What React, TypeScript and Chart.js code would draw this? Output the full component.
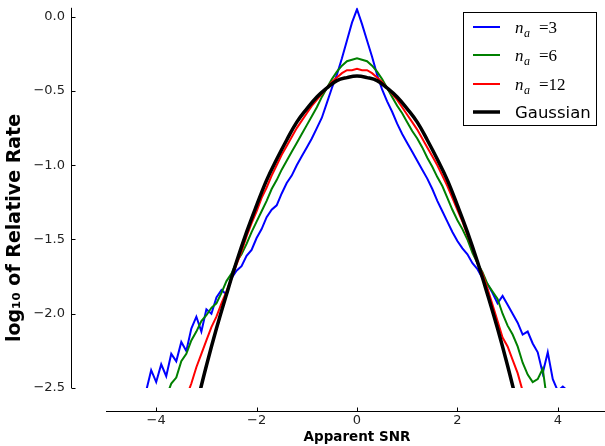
import React, { useEffect, useRef } from "react";
import { Chart, registerables } from "chart.js";

Chart.register(...registerables);

// ---- data ----
const SNR = [
  -4.2, -4.1, -4.0, -3.9, -3.8, -3.7, -3.6, -3.5, -3.4, -3.3, -3.2, -3.1, -3.0, -2.9, -2.8, -2.7, -2.6, -2.5, -2.4, -2.3, -2.2,
  -2.1, -2.0, -1.9, -1.8, -1.7, -1.6, -1.5, -1.4, -1.3, -1.2, -1.1, -1.0, -0.9, -0.8, -0.7, -0.6, -0.5, -0.4, -0.3, -0.2, -0.1,
  0.0,
  0.1, 0.2, 0.3, 0.4, 0.5, 0.6, 0.7, 0.8, 0.9, 1.0, 1.1, 1.2, 1.3, 1.4, 1.5, 1.6, 1.7, 1.8, 1.9, 2.0, 2.1,
  2.2, 2.3, 2.4, 2.5, 2.6, 2.7, 2.8, 2.9, 3.0, 3.1, 3.2, 3.3, 3.4, 3.5, 3.6, 3.7, 3.8, 3.9, 4.0, 4.1, 4.2,
];

const NA3 = [
  -2.52, -2.38, -2.46, -2.34, -2.42, -2.27, -2.32, -2.19, -2.25, -2.10, -2.02, -2.12, -1.97, -2.0, -1.89, -1.84, -1.87, -1.76, -1.71, -1.68, -1.61,
  -1.57, -1.49, -1.43, -1.35, -1.3, -1.27, -1.19, -1.12, -1.07, -1.0, -0.94, -0.88, -0.82, -0.75, -0.68, -0.58, -0.48, -0.39, -0.28, -0.16, -0.04,
  0.05,
  -0.05, -0.16, -0.27, -0.39, -0.49, -0.57, -0.64, -0.72, -0.79, -0.85, -0.91, -0.97, -1.03, -1.09, -1.16, -1.24, -1.31, -1.38, -1.45, -1.51, -1.56,
  -1.6, -1.66, -1.7, -1.76, -1.8, -1.86, -1.93, -1.88, -1.94, -2.0, -2.06, -2.14, -2.12, -2.2, -2.26, -2.4, -2.26, -2.44, -2.52, -2.49, -2.52,
];

const NA6 = [
  -2.8, -2.8, -2.8, -2.75, -2.56, -2.47, -2.43, -2.32, -2.27, -2.18, -2.12, -2.05, -2.01, -1.96, -1.93, -1.86, -1.78, -1.73, -1.65, -1.6, -1.53,
  -1.45, -1.38, -1.31, -1.24, -1.16, -1.1, -1.03, -0.97, -0.91, -0.85, -0.79, -0.73, -0.67, -0.61, -0.54, -0.48, -0.42, -0.37, -0.33, -0.3, -0.29,
  -0.28,
  -0.29, -0.3, -0.33, -0.37, -0.42, -0.48, -0.54, -0.6, -0.65, -0.71, -0.77, -0.82, -0.88, -0.95, -1.01, -1.08, -1.14, -1.22, -1.3, -1.37, -1.43,
  -1.5, -1.59, -1.66, -1.72, -1.8, -1.85, -1.9, -2.0, -2.08, -2.14, -2.22, -2.33, -2.41, -2.46, -2.44, -2.37, -2.62, -2.8, -2.8, -2.8, -2.8,
];

const NA12 = [
  -2.8, -2.8, -2.8, -2.8, -2.8, -2.8, -2.8, -2.8, -2.56, -2.47, -2.36, -2.27, -2.18, -2.09, -2.02, -1.93, -1.85, -1.76, -1.67, -1.58, -1.48,
  -1.39, -1.31, -1.22, -1.15, -1.07, -1.0, -0.93, -0.87, -0.81, -0.75, -0.7, -0.65, -0.6, -0.56, -0.52, -0.48, -0.44, -0.41, -0.38, -0.36, -0.36,
  -0.35,
  -0.36, -0.36, -0.38, -0.41, -0.44, -0.48, -0.52, -0.56, -0.61, -0.66, -0.71, -0.76, -0.82, -0.88, -0.94, -1.0, -1.07, -1.14, -1.22, -1.3, -1.38,
  -1.47, -1.56, -1.66, -1.73, -1.83, -1.94, -2.05, -2.16, -2.22, -2.31, -2.4, -2.52, -2.8, -2.8, -2.8, -2.8, -2.8, -2.8, -2.8, -2.8, -2.8,
];

const GAUSS_X = [
  -3.2, -3.0, -2.8, -2.6, -2.4, -2.2, -2.0, -1.8, -1.6, -1.4, -1.2, -1.0, -0.8, -0.6, -0.4, -0.2, 0.0,
  0.2, 0.4, 0.6, 0.8, 1.0, 1.2, 1.4, 1.6, 1.8, 2.0, 2.2, 2.4, 2.6, 2.8, 3.0, 3.2,
];
const GAUSS = [
  -2.62, -2.35, -2.1, -1.87, -1.65, -1.45, -1.27, -1.1, -0.96, -0.83, -0.71, -0.62, -0.54, -0.48, -0.43, -0.41, -0.4,
  -0.41, -0.43, -0.48, -0.54, -0.62, -0.71, -0.83, -0.96, -1.1, -1.27, -1.45, -1.65, -1.87, -2.1, -2.35, -2.62,
];

const NA_VALUES = [3, 6, 12];
const SERIES_COLORS = ["#0000ff", "#008000", "#ff0000", "#000000"];
const X_TICKS = [-4, -2, 0, 2, 4];
const Y_TICKS = [-2.5, -2.0, -1.5, -1.0, -0.5, 0.0];
const X_TITLE = "Apparent SNR";
const Y_TITLE = "log\u2081\u2080 of Relative Rate";
const GAUSS_LABEL = "Gaussian";

const minus = (s: string) => s.replace("-", "\u2212");

const spinesPlugin = {
  id: "spines",
  afterDraw(chart: any) {
    const { ctx, scales } = chart;
    const xs = scales.x;
    const ys = scales.y;
    ctx.save();
    ctx.strokeStyle = "#000";
    ctx.lineWidth = 1;
    // y spine, offset outward
    const sx = 71.5;
    ctx.beginPath();
    ctx.moveTo(sx, ys.getPixelForValue(ys.max));
    ctx.lineTo(sx, ys.getPixelForValue(ys.min));
    for (const v of Y_TICKS) {
      const py = Math.round(ys.getPixelForValue(v)) + 0.5;
      ctx.moveTo(sx, py);
      ctx.lineTo(sx + 4, py);
    }
    ctx.stroke();
    // x spine, offset outward
    const sy = 411.5;
    ctx.beginPath();
    ctx.moveTo(xs.getPixelForValue(xs.min), sy);
    ctx.lineTo(xs.getPixelForValue(xs.max), sy);
    for (const v of X_TICKS) {
      const px = Math.round(xs.getPixelForValue(v)) + 0.5;
      ctx.moveTo(px, sy);
      ctx.lineTo(px, sy - 4);
    }
    ctx.stroke();

    // y title
    ctx.fillStyle = "#000";
    ctx.font = 'bold 19px "DejaVu Sans"';
    ctx.textAlign = "center";
    ctx.textBaseline = "middle";
    ctx.translate(15, 228);
    ctx.rotate(-Math.PI / 2);
    ctx.fillText(Y_TITLE, 0, 0);
    ctx.restore();
  },
};

const legendPlugin = {
  id: "mplLegend",
  afterDraw(chart: any) {
    const { ctx } = chart;
    ctx.save();
    const bx = 463.5, by = 12.5, bw = 133, bh = 113;
    ctx.fillStyle = "#fff";
    ctx.fillRect(bx, by, bw, bh);
    ctx.strokeStyle = "#000";
    ctx.lineWidth = 1;
    ctx.strokeRect(bx, by, bw, bh);
    const rows = [27, 55, 84, 112];
    const datasets = chart.data.datasets;
    for (let i = 0; i < 4; i++) {
      const ds = datasets[i];
      const ly = rows[i];
      ctx.strokeStyle = ds.borderColor;
      ctx.lineWidth = ds.borderWidth;
      ctx.beginPath();
      ctx.moveTo(473, ly);
      ctx.lineTo(500, ly);
      ctx.stroke();
      ctx.fillStyle = "#000";
      ctx.textBaseline = "alphabetic";
      ctx.textAlign = "left";
      if (i < 3) {
        const base = ly + 6;
        ctx.font = 'italic 17px "Liberation Serif"';
        ctx.fillText("n", 515, base);
        ctx.font = 'italic 12px "Liberation Serif"';
        ctx.fillText("a", 524, base + 4);
        ctx.font = '17px "Liberation Serif"';
        ctx.fillText("=" + NA_VALUES[i], 539, base);
      } else {
        ctx.font = '16.5px "DejaVu Sans"';
        ctx.fillText(ds.label, 515, ly + 6);
      }
    }
    ctx.restore();
  },
};

export default function App() {
  const ref = useRef<HTMLCanvasElement>(null);
  useEffect(() => {
    const pts = (xs: number[], ys: number[]) => xs.map((x, i) => ({ x, y: ys[i] }));
    const seriesData = [NA3, NA6, NA12];
    const datasets: any[] = seriesData.map((s, i) => ({
      label: `n\u2090 =${NA_VALUES[i]}`,
      data: pts(SNR, s),
      borderColor: SERIES_COLORS[i],
      borderWidth: 2,
      pointRadius: 0,
      tension: 0,
      order: 3 - i,
    }));
    datasets.push({
      label: GAUSS_LABEL,
      data: pts(GAUSS_X, GAUSS),
      borderColor: SERIES_COLORS[3],
      borderWidth: 3.5,
      pointRadius: 0,
      tension: 0.4,
      order: 0,
    });
    const hiddenGrid = (len: number) => ({
      display: true,
      drawOnChartArea: false,
      drawTicks: true,
      tickLength: len,
      color: "rgba(0,0,0,0)",
    });
    const chart = new Chart(ref.current!, {
      type: "line",
      data: { datasets },
      options: {
        responsive: false,
        animation: false,
        devicePixelRatio: 1,
        layout: { padding: { top: 3, right: 7, left: 0, bottom: 0 } },
        plugins: { legend: { display: false }, tooltip: { enabled: false } },
        scales: {
          x: {
            type: "linear",
            min: -5,
            max: 5,
            grid: hiddenGrid(25),
            border: { display: false },
            afterBuildTicks: (a: any) => {
              a.ticks = X_TICKS.map((v) => ({ value: v }));
            },
            afterFit: (s: any) => {
              s.height = 58;
            },
            ticks: {
              padding: 0,
              color: "#222",
              font: { family: "DejaVu Sans", size: 13 },
              maxRotation: 0,
              callback: (v: any) => minus(String(v)),
            },
            title: {
              display: true,
              text: X_TITLE,
              color: "#000",
              font: { family: "DejaVu Sans", size: 13.5, weight: "bold" },
              padding: 0,
            },
          },
          y: {
            type: "linear",
            min: -2.5,
            max: 0.06,
            grid: hiddenGrid(41),
            border: { display: false },
            afterBuildTicks: (a: any) => {
              a.ticks = Y_TICKS.map((v) => ({ value: v }));
            },
            afterFit: (s: any) => {
              s.width = 106;
            },
            ticks: {
              padding: 0,
              color: "#222",
              font: { family: "DejaVu Sans", size: 13 },
              callback: (v: any) => minus(Number(v).toFixed(1)),
            },
          },
        },
      },
      plugins: [spinesPlugin, legendPlugin],
    });
    return () => chart.destroy();
  }, []);
  return (
    <div style={{ position: "absolute", left: 0, top: 0, width: 605, height: 446, overflow: "hidden", background: "#fff" }}>
      <canvas ref={ref} width={615} height={446} style={{ display: "block", width: 615, height: 446 }} />
    </div>
  );
}
